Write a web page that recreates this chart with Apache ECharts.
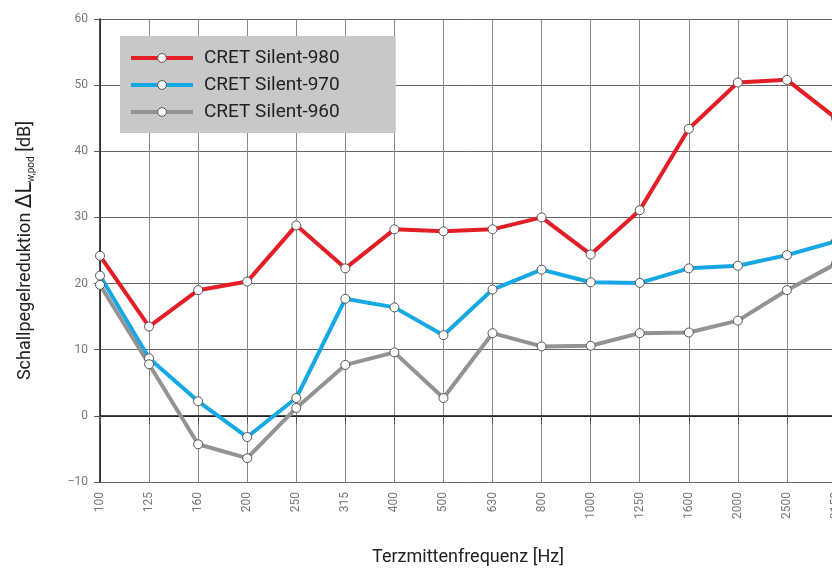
<!DOCTYPE html>
<html><head><meta charset="utf-8">
<script src="https://cdn.jsdelivr.net/npm/echarts@6/dist/echarts.min.js"></script>
<style>html,body{margin:0;padding:0;background:#fff}#c{width:832px;height:570px}</style>
</head><body><div id="c"></div>
<script>
const categories = ['100','125','160','200','250','315','400','500','630','800','1000','1250','1600','2000','2500','3150'];
const silent980 = [24.2, 13.5, 19.0, 20.3, 28.8, 22.3, 28.2, 27.9, 28.2, 30.0, 24.4, 31.1, 43.4, 50.4, 50.8, 45.0];
const silent970 = [21.2, 8.7, 2.2, -3.2, 2.7, 17.7, 16.4, 12.2, 19.1, 22.1, 20.2, 20.1, 22.3, 22.7, 24.3, 26.4];
const silent960 = [19.8, 7.8, -4.3, -6.4, 1.2, 7.7, 9.6, 2.7, 12.5, 10.5, 10.6, 12.5, 12.6, 14.4, 19.0, 23.0];
const yTicks = [-10, 0, 10, 20, 30, 40, 50, 60];
const seriesNames = ['CRET Silent-980', 'CRET Silent-970', 'CRET Silent-960'];

const FONT = '"Roboto", sans-serif';
const chart = echarts.init(document.getElementById('c'), null, {renderer: 'canvas'});
const mk = (name, data, color) => ({
  name, type: 'line', data, color,
  lineStyle: {width: 4, color},
  symbol: 'circle', symbolSize: 9,
  itemStyle: {color: '#fff', borderColor: '#555', borderWidth: 1},
  emphasis: {disabled: true},
  z: 3
});
chart.setOption({
  animation: false,
  backgroundColor: '#fff',
  grid: {left: 100, top: 19, right: -4, bottom: 88, containLabel: false, outerBoundsMode: 'none'},
  legend: {
    left: 120, top: 36, orient: 'vertical',
    padding: [12, 56, 11, 9],
    backgroundColor: '#c8c8c8',
    itemWidth: 62, itemHeight: 11, itemGap: 7,
    lineStyle: {width: 4},
    textStyle: {fontFamily: FONT, fontSize: 19, color: '#222', padding: [0, 0, 0, 6], lineHeight: 20},
    data: seriesNames.map(n => ({name: n, itemStyle: {color: '#fff', borderColor: '#555', borderWidth: 1}}))
  },
  xAxis: {
    type: 'category', data: categories, boundaryGap: false,
    axisLine: {lineStyle: {color: '#111', width: 1.5}},
    axisTick: {show: true, length: 8, lineStyle: {color: '#555'}},
    axisLabel: {rotate: 90, margin: 10, color: '#777', fontFamily: FONT, fontSize: 12},
    splitLine: {show: true, lineStyle: {color: '#888', width: 1}},
    name: 'Terzmittenfrequenz [Hz]', nameLocation: 'middle', nameGap: 66,
    nameTextStyle: {fontFamily: FONT, fontSize: 18, color: '#222'}
  },
  yAxis: {
    type: 'value', min: -10, max: 60, interval: 10,
    axisLine: {show: true, lineStyle: {color: '#111', width: 1.5}},
    axisTick: {show: true, length: 6, lineStyle: {color: '#555'}},
    axisLabel: {color: '#777', fontFamily: FONT, fontSize: 12, margin: 12,
      formatter: v => yTicks.includes(v) ? (v < 0 ? '\u2212' + Math.abs(v) : String(v)) : ''},
    splitLine: {show: true, lineStyle: {color: '#666', width: 1}},
    name: '{a|Schallpegelreduktion }{b|\u0394L}{s|w,pod}{a| [dB]}',
    nameLocation: 'middle', nameGap: 64, nameRotate: 90,
    nameTextStyle: {
      rich: {
        a: {fontFamily: FONT, fontSize: 18, color: '#222'},
        b: {fontFamily: '"DejaVu Sans", sans-serif', fontSize: 21, color: '#222'},
        s: {fontFamily: FONT, fontSize: 10, color: '#222', verticalAlign: 'bottom', padding: [8, 0, 0, 0]}
      }
    }
  },
  series: [
    mk(seriesNames[0], silent980, '#e31e26'),
    mk(seriesNames[1], silent970, '#15a8e2'),
    mk(seriesNames[2], silent960, '#939393')
  ]
});
</script></body></html>
